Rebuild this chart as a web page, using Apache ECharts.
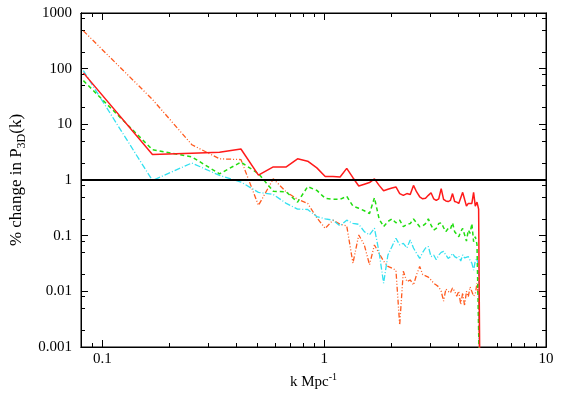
<!DOCTYPE html>
<html>
<head>
<meta charset="utf-8">
<script src="https://cdn.jsdelivr.net/npm/echarts@6/dist/echarts.min.js"></script>
<style>
  html, body { margin: 0; padding: 0; background: #fff; }
  #chart { width: 564px; height: 395px; }
</style>
</head>
<body>
<div id="chart"></div>
<script>
// k values (Mpc^-1)
const kValues = [
  0.082, 0.168, 0.253, 0.337, 0.421, 0.505, 0.589, 0.674, 0.758, 0.842,
  0.926, 1.010, 1.095, 1.179, 1.263, 1.347, 1.431, 1.516, 1.600, 1.684,
  1.768, 1.852, 1.937, 2.021, 2.105, 2.189, 2.273, 2.358, 2.442, 2.526,
  2.610, 2.694, 2.779, 2.863, 2.947, 3.031, 3.115, 3.200, 3.284, 3.368,
  3.452, 3.536, 3.621, 3.705, 3.789, 3.873, 3.957, 4.042, 4.126, 4.210,
  4.294, 4.378, 4.463, 4.547, 4.631, 4.715, 4.799, 4.884, 4.968, 5.040
];

// % change in P3D(k), one array per curve
const redValues = [
  84, 2.86, 3.03, 3.16, 3.6, 1.22, 1.72, 1.72, 2.4, 2.18,
  1.65, 1.16, 1.15, 1.13, 1.62, 1.1, 0.78, 0.84, 0.9, 1.05,
  0.8, 0.64, 0.68, 0.72, 0.75, 0.57, 0.53, 0.57, 0.55, 0.8,
  0.61, 0.5, 0.46, 0.47, 0.53, 0.59, 0.46, 0.43, 0.46, 0.7,
  0.45, 0.42, 0.41, 0.43, 0.57, 0.41, 0.4, 0.38, 0.36, 0.6,
  0.45, 0.34, 0.38, 0.36, 0.38, 0.6, 0.34, 0.4, 0.3, 0.0001
];
const greenValues = [
  61, 3.5, 2.6, 1.29, 2.09, 1.3, 0.63, 0.61, 0.4, 0.76,
  0.65, 0.47, 0.45, 0.45, 0.51, 0.34, 0.31, 0.28, 0.25, 0.48,
  0.2, 0.145, 0.18, 0.2, 0.17, 0.19, 0.145, 0.16, 0.165, 0.2,
  0.17, 0.145, 0.15, 0.165, 0.2, 0.155, 0.126, 0.135, 0.165, 0.17,
  0.14, 0.118, 0.135, 0.13, 0.17, 0.118, 0.106, 0.096, 0.118, 0.135,
  0.145, 0.08, 0.126, 0.11, 0.165, 0.078, 0.096, 0.07, 0.068, 0.0001
];
const cyanValues = [
  92, 0.98, 2.02, 1.21, 0.92, 0.6, 0.55, 0.38, 0.3, 0.295,
  0.22, 0.2, 0.19, 0.15, 0.19, 0.166, 0.16, 0.118, 0.103, 0.136,
  0.05, 0.014, 0.045, 0.064, 0.09, 0.068, 0.073, 0.06, 0.084, 0.06,
  0.048, 0.039, 0.05, 0.06, 0.064, 0.042, 0.045, 0.037, 0.045, 0.05,
  0.052, 0.045, 0.039, 0.042, 0.048, 0.042, 0.04, 0.043, 0.035, 0.045,
  0.04, 0.039, 0.042, 0.036, 0.032, 0.024, 0.035, 0.039, 0.026, 0.0001
];
const orangeValues = [
  478, 28, 4.3, 2.4, 2.33, 0.35, 1.05, 0.61, 0.45, 0.38,
  0.21, 0.135, 0.19, 0.16, 0.15, 0.032, 0.103, 0.068, 0.03, 0.068,
  0.048, 0.035, 0.028, 0.026, 0.024, 0.0025, 0.023, 0.015, 0.016, 0.013,
  0.02, 0.028, 0.02, 0.019, 0.018, 0.016, 0.014, 0.013, 0.012, 0.01,
  0.0067, 0.011, 0.01, 0.0094, 0.0115, 0.01, 0.0082, 0.01, 0.0058, 0.0094,
  0.0055, 0.01, 0.008, 0.012, 0.0124, 0.0082, 0.009, 0.014, 0.0077, 0.0001
];

// tick positions
const xMajorTicks = [0.1, 1, 10];
const xMinorTicks = [0.08, 0.09, 0.2, 0.3, 0.4, 0.5, 0.6, 0.7, 0.8, 0.9,
  2, 3, 4, 5, 6, 7, 8, 9];
const yMajorTicks = [0.001, 0.01, 0.1, 1, 10, 100, 1000];
const yMinorTicks = [0.002, 0.005, 0.008, 0.02, 0.05, 0.08, 0.2, 0.5, 0.8,
  2, 5, 8, 20, 50, 80, 200, 500, 800];

const serif = 'Liberation Serif';
const fmt = v => String(+Number(v).toPrecision(6));

function xAxisOf(position, ticks, len, labels) {
  return {
    type: 'log', logBase: 10, min: 0.08, max: 10, position: position,
    axisLine: { show: true, onZero: false, lineStyle: { color: '#000', width: 1 } },
    axisTick: { show: true, inside: true, length: len, customValues: ticks,
      lineStyle: { color: '#000', width: 1 } },
    axisLabel: labels ? { show: true, customValues: xMajorTicks, formatter: fmt,
      fontFamily: serif, fontSize: 15, color: '#000', margin: 5 } : { show: false },
    splitLine: { show: false },
    name: labels ? '{a|k Mpc}{sup|-1}' : '',
    nameLocation: 'middle', nameGap: 25,
    nameTextStyle: { rich: {
      a: { fontFamily: serif, fontSize: 15, color: '#000', verticalAlign: 'bottom' },
      sup: { fontFamily: serif, fontSize: 10, color: '#000', verticalAlign: 'top', padding: [0, 0, 8, 0] }
    } }
  };
}

function yAxisOf(position, ticks, len, labels) {
  return {
    type: 'log', logBase: 10, min: 0.001, max: 1000, position: position,
    axisLine: { show: true, onZero: false, lineStyle: { color: '#000', width: 1 } },
    axisTick: { show: true, inside: true, length: len, customValues: ticks,
      lineStyle: { color: '#000', width: 1 } },
    axisLabel: labels ? { show: true, customValues: yMajorTicks, formatter: fmt,
      fontFamily: serif, fontSize: 15, color: '#000', margin: 9 } : { show: false },
    splitLine: { show: false },
    name: labels ? '{a|% change in P}{sub|3D}{a|(k)}' : '',
    nameLocation: 'middle', nameGap: 50, nameRotate: 90,
    nameTextStyle: { rich: {
      a: { fontFamily: serif, fontSize: 17, color: '#000' },
      sub: { fontFamily: serif, fontSize: 12, color: '#000', padding: [9, 0, 0, 0] }
    } }
  };
}

function curve(values, color, dash, width) {
  return {
    type: 'line', xAxisIndex: 0, yAxisIndex: 0,
    data: kValues.map((k, i) => [k, values[i]]),
    showSymbol: false, symbol: 'none', clip: true,
    lineStyle: { color: color, width: width, type: dash },
    emphasis: { disabled: true }
  };
}

const chart = echarts.init(document.getElementById('chart'));
const series = [
  curve(orangeValues, '#ff5a1e', [5, 2, 1, 2, 1, 2], 1.3),
  curve(cyanValues, '#33e0f0', [6, 2, 1, 2], 1.3),
  curve(greenValues, '#22dd11', [4, 3], 1.5),
  curve(redValues, '#ff1a1a', 'solid', 1.5)
];
series[3].markLine = {
  silent: true, symbol: 'none', animation: false,
  label: { show: false },
  lineStyle: { color: '#000', width: 2, type: 'solid' },
  data: [{ yAxis: 1 }]
};

chart.setOption({
  animation: false,
  backgroundColor: '#fff',
  grid: { left: 81, right: 18, top: 13, bottom: 46, show: true,
    borderColor: '#000', borderWidth: 1 },
  xAxis: [
    xAxisOf('bottom', xMajorTicks, 7, true),
    xAxisOf('bottom', xMinorTicks, 4, false),
    xAxisOf('top', xMajorTicks, 7, false),
    xAxisOf('top', xMinorTicks, 4, false)
  ],
  yAxis: [
    yAxisOf('left', yMajorTicks, 7, true),
    yAxisOf('left', yMinorTicks, 4, false),
    yAxisOf('right', yMajorTicks, 7, false),
    yAxisOf('right', yMinorTicks, 4, false)
  ],
  series: series
});
</script>
</body>
</html>
